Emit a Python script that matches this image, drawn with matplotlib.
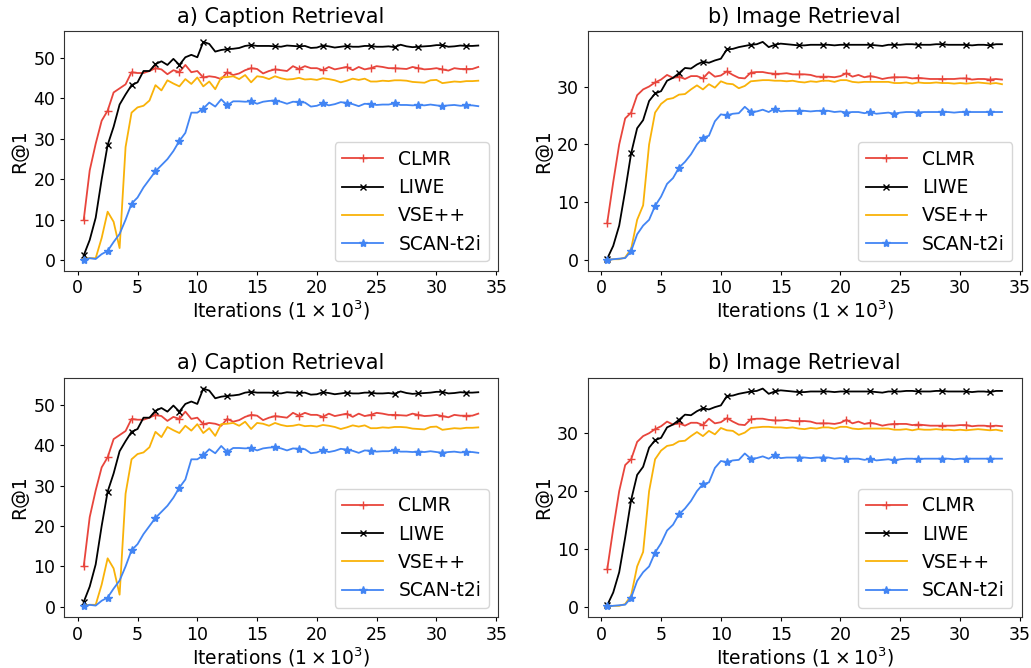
import numpy as np
import matplotlib
matplotlib.use("Agg")
import matplotlib.pyplot as plt

iterations = [0.5 * k for k in range(1, 68)]  # 0.5 .. 33.5 (x 10^3)

caption_clmr = [10.0, 22.2, 28.8, 34.5, 37.0, 41.5, 42.5, 43.5, 46.5, 46.3, 46.3, 46.8, 47.5, 47.2, 46.0, 47.0,
                46.5, 48.3, 46.5, 46.8, 45.2, 45.5, 45.3, 44.8, 46.5, 45.8, 46.2, 47.0, 47.5, 47.3, 46.2, 46.8,
                47.2, 47.0, 46.8, 48.0, 47.3, 48.0, 47.5, 47.5, 47.0, 47.8, 47.2, 47.5, 47.8, 47.0, 47.8, 47.2,
                47.5, 48.0, 47.8, 47.5, 47.5, 47.4, 47.3, 47.8, 47.5, 47.2, 47.3, 47.5, 47.2, 46.9, 47.5, 47.3,
                47.3, 47.3, 47.8]
caption_liwe = [1.2, 5.0, 10.5, 20.0, 28.5, 33.0, 38.5, 41.0, 43.3, 44.0, 46.8, 46.8, 48.5, 49.2, 48.3, 49.8,
                48.3, 50.2, 50.8, 50.2, 54.0, 53.5, 51.6, 52.0, 52.2, 52.3, 52.5, 53.0, 53.2, 53.0, 53.0, 53.0,
                52.9, 52.8, 53.1, 53.0, 52.9, 53.0, 52.5, 52.6, 53.1, 52.9, 52.6, 52.8, 53.0, 52.8, 52.8, 53.0,
                53.0, 52.8, 52.8, 52.9, 52.7, 53.3, 52.9, 52.7, 52.8, 52.9, 53.0, 53.2, 53.2, 52.8, 52.9, 53.1,
                53.0, 53.0, 53.1]
caption_vse = [0.3, 0.5, 0.5, 5.5, 12.0, 9.5, 3.0, 28.0, 36.5, 37.8, 38.2, 39.5, 43.3, 42.0, 44.5, 43.7,
               43.0, 44.8, 43.6, 45.2, 43.0, 44.2, 42.3, 45.2, 45.3, 45.5, 44.8, 45.8, 44.0, 45.5, 45.3, 44.8,
               45.5, 45.0, 44.7, 44.8, 45.1, 44.7, 44.8, 44.6, 45.0, 44.8, 44.5, 44.0, 44.4, 44.9, 44.6, 44.9,
               44.2, 44.2, 44.4, 44.3, 44.5, 44.5, 44.4, 44.1, 44.0, 43.9, 44.5, 44.6, 43.8, 44.0, 44.2, 44.1,
               44.3, 44.3, 44.4]
caption_scan = [0.1, 0.5, 0.3, 1.5, 2.3, 4.5, 6.5, 10.0, 14.0, 15.5, 18.0, 20.0, 22.0, 23.5, 25.0, 27.0,
                29.5, 31.5, 36.5, 36.5, 37.5, 39.0, 38.0, 39.8, 38.3, 39.3, 39.3, 39.2, 39.3, 38.7, 39.2, 39.4,
                39.5, 39.2, 38.7, 39.2, 39.1, 39.0, 38.0, 38.2, 38.8, 38.3, 38.6, 39.1, 38.9, 38.6, 38.1, 38.7,
                38.6, 38.4, 38.5, 38.5, 38.8, 38.4, 38.4, 38.3, 38.4, 38.3, 38.5, 38.3, 38.1, 38.3, 38.4, 38.2,
                38.3, 38.3, 38.1]

image_clmr = [6.5, 13.5, 20.0, 24.5, 25.5, 28.5, 29.5, 30.0, 30.7, 31.2, 32.0, 31.5, 31.7, 31.3, 31.8, 31.8,
              31.4, 32.5, 31.7, 31.9, 32.6, 32.0, 31.5, 31.4, 32.4, 32.5, 32.5, 32.3, 32.2, 32.2, 32.3, 32.1,
              32.1, 32.1, 32.0, 31.7, 31.7, 31.7, 31.6, 31.8, 32.3, 31.7, 32.0, 31.6, 31.8, 31.6, 31.3, 31.5,
              31.6, 31.6, 31.6, 31.4, 31.5, 31.4, 31.3, 31.3, 31.3, 31.3, 31.3, 31.4, 31.4, 31.2, 31.3, 31.3,
              31.2, 31.3, 31.2]
image_liwe = [0.3, 2.5, 6.0, 12.0, 18.5, 22.8, 24.2, 27.5, 28.8, 29.2, 31.0, 31.5, 32.3, 33.2, 33.1, 33.8,
              34.3, 34.1, 34.5, 34.8, 36.4, 36.5, 36.8, 37.0, 37.2, 37.3, 37.7, 36.8, 37.2, 37.4, 37.3, 37.2,
              37.1, 37.1, 37.2, 37.2, 37.2, 37.2, 37.1, 37.2, 37.2, 37.2, 37.2, 37.2, 37.2, 37.1, 37.0, 37.2,
              37.2, 37.2, 37.3, 37.3, 37.2, 37.2, 37.2, 37.3, 37.3, 37.2, 37.2, 37.2, 37.2, 37.1, 37.2, 37.2,
              37.1, 37.3, 37.3]
image_vse = [0.1, 0.2, 0.2, 0.5, 2.0, 7.0, 9.5, 20.0, 25.5, 27.0, 27.8, 28.0, 28.6, 28.7, 29.5, 30.2,
             29.5, 30.4, 29.8, 30.9, 30.5, 30.4, 29.7, 30.1, 30.9, 31.0, 31.1, 31.1, 31.0, 31.0, 30.9, 31.0,
             30.8, 30.7, 30.9, 30.8, 31.0, 31.0, 30.8, 31.1, 31.1, 30.8, 30.7, 30.8, 30.8, 30.8, 30.8, 30.8,
             30.6, 30.6, 30.7, 30.5, 30.7, 30.6, 30.6, 30.7, 30.6, 30.6, 30.5, 30.6, 30.5, 30.6, 30.7, 30.6,
             30.5, 30.6, 30.4]
image_scan = [0.1, 0.2, 0.3, 0.4, 1.6, 4.5, 6.0, 7.0, 9.4, 11.0, 13.2, 14.2, 16.0, 17.0, 18.3, 20.0,
              21.2, 21.5, 24.0, 25.2, 25.0, 25.3, 25.4, 26.5, 25.6, 25.7, 26.0, 25.6, 26.2, 25.7, 25.8, 25.8,
              25.8, 25.8, 25.7, 25.8, 25.8, 25.8, 25.6, 25.7, 25.5, 25.6, 25.6, 25.4, 25.6, 25.3, 25.4, 25.5,
              25.3, 25.5, 25.6, 25.6, 25.5, 25.6, 25.6, 25.6, 25.6, 25.6, 25.5, 25.6, 25.6, 25.6, 25.6, 25.6,
              25.6, 25.6, 25.6]

methods = ["CLMR", "LIWE", "VSE++", "SCAN-t2i"]
titles = ["a) Caption Retrieval", "b) Image Retrieval"]
xlabel = r"Iterations ($1 \times 10^3$)"
ylabel = "R@1"

colors = ["#E8453C", "#000000", "#F9B208", "#4285F4"]
markers = ["+", "x", None, "*"]
msizes = [6, 5, 0, 6]

panels = [[caption_clmr, caption_liwe, caption_vse, caption_scan],
          [image_clmr, image_liwe, image_vse, image_scan]]

W, H = 1031, 668
fig = plt.figure(figsize=(W / 100, H / 100), dpi=100)

rects = []
for (top, bottom) in [(31, 270.7), (377.7, 617.3)]:
    for (left, right) in [(64, 498), (587.5, 1021.7)]:
        rects.append([left / W, (H - bottom) / H, (right - left) / W, (bottom - top) / H])

for i, rect in enumerate(rects):
    p = i % 2
    ax = fig.add_axes(rect)
    for series, name, c, m, ms in zip(panels[p], methods, colors, markers, msizes):
        ax.plot(iterations, series, color=c, marker=m, markersize=ms, markevery=4,
                linewidth=1.3, label=name)
    ax.set_title(titles[p], fontsize=15)
    ax.set_xlabel(xlabel, fontsize=13.5, labelpad=1)
    ax.set_ylabel(ylabel, fontsize=13.5, labelpad=3)
    ax.set_xticks([0, 5, 10, 15, 20, 25, 30, 35])
    ax.tick_params(labelsize=12.5, length=2.6, pad=3.5)
    for s in ax.spines.values():
        s.set_color("#333333")
    ax.legend(loc="lower right", fontsize=13.5, handlelength=2.2)

fig.savefig("out.png", dpi=100)
